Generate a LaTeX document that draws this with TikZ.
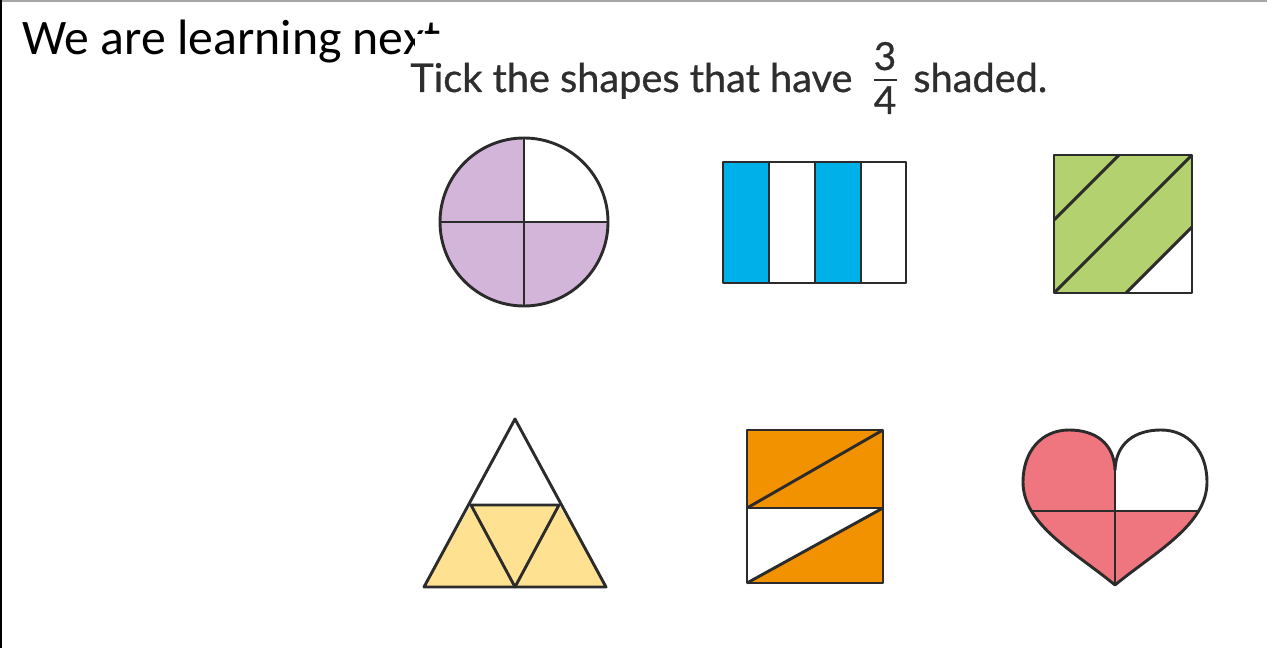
\documentclass[tikz,border=0pt]{standalone}
\usepackage{fontspec}
\setmainfont{Lato}
\newfontfamily\calib{Carlito}
\newfontfamily\ttlfont[FakeBold=0.7]{Lato}
\definecolor{ink}{HTML}{2B2B2B}
\definecolor{txt}{HTML}{2E2E2E}
\definecolor{purp}{HTML}{D3B5DA}
\definecolor{sky}{HTML}{00B1E9}
\definecolor{lime}{HTML}{B3D16F}
\definecolor{yel}{HTML}{FEE291}
\definecolor{org}{HTML}{F39200}
\definecolor{pink}{HTML}{EF767E}
\begin{document}
\begin{tikzpicture}[x=0.02cm,y=-0.02cm,line join=round,
  shp/.style={draw=ink,line width=1.65pt},
  ttl/.style={anchor=base west,inner sep=0,text=txt,font=\ttlfont\fontsize{22.6}{25}\selectfont},
  dig/.style={anchor=base,inner sep=0,text=txt,font=\ttlfont\fontsize{22}{25}\selectfont}]
\useasboundingbox (0,0) rectangle (1267,648);
\fill[white] (0,0) rectangle (1267,648);
\draw[gray!70,line width=1.2pt] (0,0.5) -- (1267,0.5);
\draw[black,line width=1.2pt] (1,0) -- (1,648);
\node[anchor=base west,inner sep=0,font=\calib\fontsize{28.3}{30}\selectfont] (head) at (22,55) {We are learning next};
\fill[white] (415,34) rectangle (1267,648);
% title
\node[ttl] (q) at (410,92) {Tick the shapes that have};
\node[dig] (num) at (885,70) {3};
\node[dig] (den) at (885,114) {4};
\draw[txt,line width=1.4pt] (874,80) -- (897,80);
\node[ttl] (s) at (913,92) {shaded.};
% circle
\fill[purp] (524,222) circle (84);
\begin{scope}
\clip (524,222) circle (84);
\fill[white] (524,120) rectangle (620,222);
\end{scope}
\draw[shp] (440,222) -- (608,222);
\draw[shp] (524,138) -- (524,306);
\draw[shp] (524,222) circle (84);
% blue strips
\fill[sky] (723,162) rectangle (769,283);
\fill[sky] (815,162) rectangle (861,283);
\draw[shp] (723,162) rectangle (906,283);
\draw[shp] (769,162) -- (769,283);
\draw[shp] (815,162) -- (815,283);
\draw[shp] (861,162) -- (861,283);
% green square
\fill[lime] (1054,155) rectangle (1192,293);
\fill[white] (1126,293) -- (1192,227) -- (1192,293) -- cycle;
\draw[shp] (1054,155) rectangle (1192,293);
\draw[shp] (1119,155) -- (1054,220);
\draw[shp] (1054,293) -- (1192,155);
\draw[shp] (1126,293) -- (1192,227);
% triangle
\fill[yel] (471,505) -- (559,505) -- (606,587) -- (424,587) -- cycle;
\draw[shp] (515,419) -- (606,587) -- (424,587) -- cycle;
\draw[shp] (471,505) -- (559,505) -- (515,587) -- cycle;
% orange rectangle
\fill[org] (747,430) rectangle (883,508);
\fill[org] (747,583) -- (883,508) -- (883,583) -- cycle;
\draw[shp] (747,430) rectangle (883,583);
\draw[shp] (747,508) -- (883,508);
\draw[shp] (747,508) -- (883,430);
\draw[shp] (747,583) -- (883,508);
% heart
\def\heartpath{(1115,470) .. controls (1114,443) and (1095,430) .. (1069,430)
 .. controls (1041,430) and (1023,452) .. (1023,482)
 .. controls (1023,525) and (1075,552) .. (1115,585)
 .. controls (1155,552) and (1207,525) .. (1207,482)
 .. controls (1207,452) and (1189,430) .. (1161,430)
 .. controls (1135,430) and (1116,443) .. (1115,470) -- cycle}
\fill[pink] \heartpath;
\begin{scope}
\clip \heartpath;
\fill[white] (1115,400) rectangle (1260,511);
\draw[shp] (1000,511) -- (1260,511);
\draw[shp] (1115,460) -- (1115,600);
\end{scope}
\draw[shp] \heartpath;
\end{tikzpicture}
\end{document}
